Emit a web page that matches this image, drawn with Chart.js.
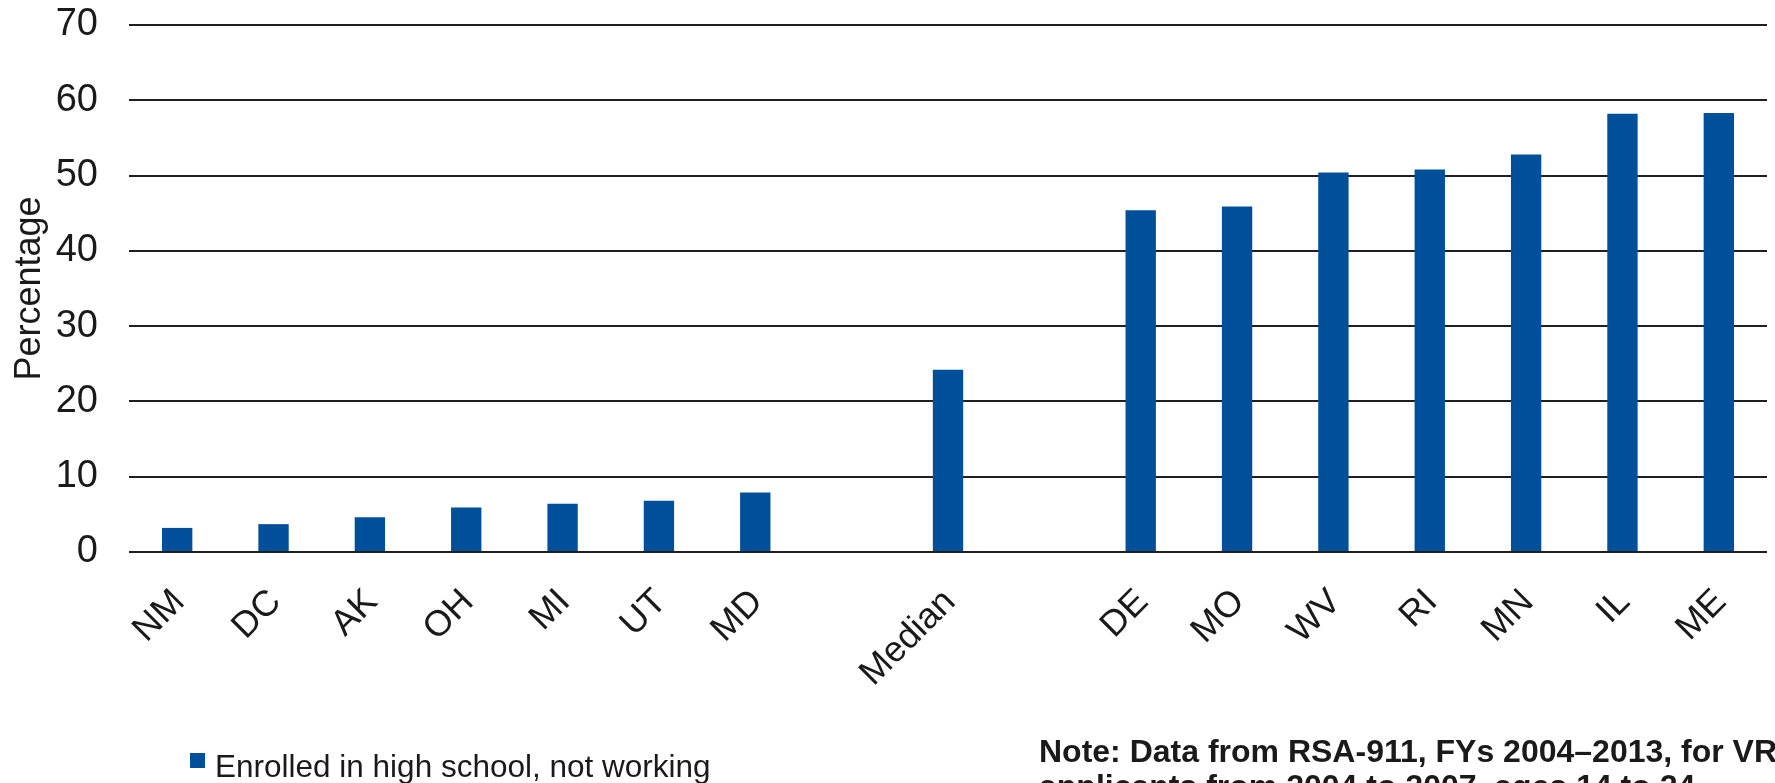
<!DOCTYPE html>
<html>
<head>
<meta charset="utf-8">
<script src="https://cdn.jsdelivr.net/npm/chart.js@4/dist/chart.umd.min.js"></script>
<style>
  html, body { margin: 0; padding: 0; background: #fff; }
  #wrap { position: relative; width: 1775px; height: 783px; overflow: hidden; }
  #chart { position: absolute; left: 0; top: 0; }
  .legend { position: absolute; left: 190px; top: 748px; font: 31.5px "Liberation Sans", Arial, sans-serif; color: #1a1a1a; white-space: nowrap; }
  .legend i { display: inline-block; width: 15px; height: 15px; margin-right: 10px; vertical-align: 9px; }
  .note { position: absolute; left: 1039px; top: 734px; font: bold 32px/35px "Liberation Sans", Arial, sans-serif; color: #1a1a1a; white-space: nowrap; }
</style>
</head>
<body>
<div id="wrap">
  <canvas id="chart" width="1775" height="783"></canvas>
  <div class="legend" id="legend"></div>
  <div class="note">Note: Data from RSA-911, FYs 2004–2013, for VR<br>applicants from 2004 to 2007, ages 14 to 24</div>
</div>
<script>
document.addEventListener('DOMContentLoaded', () => {
  // states sorted by share, with the median in the middle and blank gaps around it
  const states = ['NM', 'DC', 'AK', 'OH', 'MI', 'UT', 'MD', '', 'Median', '', 'DE', 'MO', 'WV', 'RI', 'MN', 'IL', 'ME'];
  const enrolledNotWorking = [3.2, 3.7, 4.6, 5.9, 6.4, 6.8, 7.9, null, 24.2, null, 45.4, 45.9, 50.4, 50.8, 52.8, 58.2, 58.3];
  const yTicks = [0, 10, 20, 30, 40, 50, 60, 70];

  const seriesName = 'Enrolled in high school, not working';
  const blue = '#004f9b';
  const font = '"Liberation Sans", Arial, sans-serif';

  Chart.defaults.font.family = font;
  Chart.defaults.color = '#1a1a1a';

  const ctx = document.getElementById('chart').getContext('2d');

  const chart = new Chart(ctx, {
    type: 'bar',
    data: {
      labels: states,
      datasets: [{
        label: seriesName,
        data: enrolledNotWorking,
        backgroundColor: blue,
        borderWidth: 0,
        barPercentage: 0.315,
        categoryPercentage: 1
      }]
    },
    options: {
      responsive: false,
      animation: false,
      layout: { padding: { left: 0, top: 25, right: 8, bottom: 0 } },
      plugins: {
        legend: { display: false },
        tooltip: { enabled: false }
      },
      scales: {
        x: {
          grid: { display: false },
          border: { display: false },
          ticks: {
            autoSkip: false,
            minRotation: 45,
            maxRotation: 45,
            padding: 21,
            labelOffset: 2,
            font: { size: 36 }
          },
          afterFit: (scale) => { scale.height = 231; }
        },
        y: {
          min: 0,
          max: 70,
          afterBuildTicks: (scale) => { scale.ticks = yTicks.map(v => ({ value: v })); },
          grid: { color: '#1f1f1f', lineWidth: 2, drawTicks: false },
          border: { display: false },
          ticks: { padding: 31, font: { size: 38 } },
          title: {
            display: true,
            text: 'Percentage',
            font: { size: 36 },
            padding: { top: 8, bottom: 0 }
          },
          afterFit: (scale) => {
            scale.width = 129;
            // the tick padding is horizontal here, keep it out of the top/bottom space
            scale.paddingTop = 0;
            scale.paddingBottom = 0;
          }
        }
      }
    }
  });

  // legend built from the dataset
  const ds = chart.data.datasets[0];
  const legend = document.getElementById('legend');
  const swatch = document.createElement('i');
  swatch.style.background = ds.backgroundColor;
  legend.appendChild(swatch);
  legend.appendChild(document.createTextNode(ds.label));
});
</script>
</body>
</html>
